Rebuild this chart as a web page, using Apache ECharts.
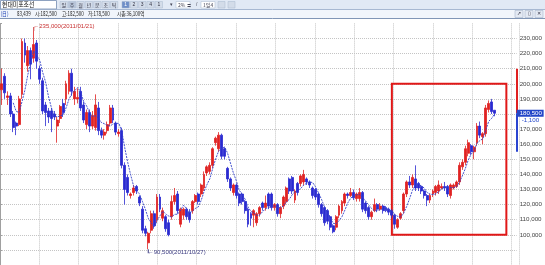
<!DOCTYPE html>
<html><head><meta charset="utf-8">
<script src="https://cdn.jsdelivr.net/npm/echarts@6/dist/echarts.min.js"></script>
<style>html,body{margin:0;padding:0;background:#fff;overflow:hidden}#c{width:545px;height:265px}</style>
</head><body><div id="c"></div><script>
// Weekly prices in thousands of won
const openPrices = [
 196,205,191,192,180,174,173,193,227,212,
 222,217,227,210,202,186,182,182,180,172,
 177,187,190,195,207,190,190,195,186,173,
 181,172,171,184,169,166,169,174,184,174,
 167,169,146,138,126,128,132,125,117,104,
 94.7,103,114,110,125,111,112,108,112,122,
 127,107,113,117,115,116,122,127,127,131,
 141,142,146,161,157,166,157,144,137,128,
 133,127,127,122,117,114,113,108,114,121,
 118,127,127,118,120,114,119,122,137,138,
 123,134,134,135,137,135,131,130,127,120,
 118,116,112,106,105,113,116,121,127,126,
 128,124,124,128,121,118,112,116,120,117,
 119,118,117,116,113,105,111,116,127,135,
 133,137,134,132,129,126,123,127,128,129,
 131,132,132,126,131,132,135,145,148,154,
 159,155,161,172,165,167,183,188,182.5];
const closePrices = [
 200,194,192,180,171,172,190,228,219,222,
 213,226,215,203,182,181,178,177,178,176,
 185,181,200,207,195,195,191,184,176,181,
 172,179,186,169,166,168,173,184,176,168,
 168,146,130,128,127,131,129,121,103,101,
 101,114,106,125,117,116,104,100,122,126,
 116,117,117,112,110,122,126,122,133,140,
 145,146,157,164,166,152,152,137,131,133,
 126,121,122,116,107,111,116,114,118,118,
 121,119,118,120,114,118,125,131,129,129,
 129,128,139,140,135,133,126,125,120,114,
 108,109,105,102,112,119,122,127,126,128,
 124.5,127,128,117,116,112,115,120,117,119,
 116,116,115,113,107,110,114,127,135,133,
 138,131,131,129,126,123,126,129,132,133,
 132,131,127,133,133,135,146,148,157,161,
 155,158,172,166,167,184,187,181.6,180.5];
const lowPrices = [
 186,190,186,178,168,166,172,190,214,208,
 203,214,210,200,180,172,174,168,176,161,
 174,178,186,193,192,186,187,182,174,170,
 168,170,169,166,164,163,167,172,174,166,
 165,144,120,126,124,126,127,119,101,99,
 90.5,101,104,108,115,109,102,99,110,120,
 114,105,110,110,108,114,121,120,125,129,
 139,140,144,159,155,150,150,135,129,126,
 124,119,120,114,105,106,105,106,112,116,
 116,117,116,116,112,111,117,120,127,127,
 121,126,132,133,133,131,124,123,118,112,
 106,107,103,101,103,111,114,119,124,125,
 123,122,122,115,114,110,110,115,115,116,
 114,115,113,111,104,104,110,114,125,131,
 131,129,129,127,124,119,121,125,126,127,
 130,129,125,124,130,131,133,143,146,152,
 153,150,159,164,160,165,181,180,178.5];
const highPrices = [
 210,207,195,194,182,175,192,230,230,225,
 224,235,229,212,204,188,184,184,182,178,
 186,190,202,209,210,198,197,198,188,183,
 183,182,193,188,171,170,175,186,186,175,
 170,171,148,140,128,133,133,126,119,106,
 102,116,116,127,127,118,113,110,126,131,
 129,118,118,118,117,123,127,128,134,142,
 146,148,158,165,168,167,158,145,138,134,
 134,128,128,123,118,115,117,115,119,122,
 126,128,128,121,121,119,126,132,138,139,
 130,135,140,143,138,136,132,131,128,121,
 119,117,113,107,113,120,123,128,128,131,
 130,128,131,129,122,119,116,124,121,121,
 120,119,118,117,114,111,115,128,136,139,
 140,146,135,133,130,127,127,130,133,136,
 134,135,133,134,134,136,148,150,159,163,
 160,159,174,175,168,186,189,190,182.5];

const totalSlots = 176;                // weeks shown incl. empty right margin
const categories = Array.from({length: totalSlots}, (_, i) => 'W' + (i + 1));
const yMin = 80, yMax = 240, yStep = 10; // thousands of won
const highDate = '2011/01/21';
const lowDate = '2011/10/27';
const boxRange = {fromWeek: 133, toWeek: 172, top: 200, bottom: 100};
const axisRangeHigh = 210, axisRangeLow = 155;
const headerItems = ['83,439', '시:182,500', '고:182,500', '저:178,500', '시총:36,100억'];
const periodButtons = ['일', '주', '월', '년', '분', '초', '틱'];
const numberButtons = ['1', '2', '3', '4', '1'];
const maPeriod = 5;

const fmt = v => Math.round(v * 1000).toLocaleString('en-US');
const candleData = openPrices.map((o, i) => [o, closePrices[i], lowPrices[i], highPrices[i]]);
const ma = closePrices.map((c, i) => {
  if (i < maPeriod - 1) return '-';
  let s = 0; for (let k = i - maPeriod + 1; k <= i; k++) s += closePrices[k];
  return +(s / maPeriod).toFixed(3);
});
const hiVal = Math.max(...highPrices), hiIdx = highPrices.indexOf(hiVal);
const loVal = Math.min(...lowPrices), loIdx = lowPrices.indexOf(loVal);
const lastClose = closePrices[closePrices.length - 1];
const change = lastClose - closePrices[closePrices.length - 2];

const UP = '#e02222', DOWN = '#2a2ad0';
const FONT = 'Liberation Sans';
const KFONT = 'Noto Sans CJK KR';

function ntext(x, y, t, size, color, sx) {
  return {type:'text', x:x, y:y, scaleX: sx || 0.8,
    style:{x:0, y:0, text:t, fontSize:size, fontFamily:KFONT, fill:color, verticalAlign:'middle'}};
}
const graphic = [
  {type:'rect', shape:{x:0,y:0,width:545,height:9.5}, style:{fill:'#e1e9f5'}},
  {type:'rect', shape:{x:0,y:9.5,width:545,height:9}, style:{fill:'#f1f5fb'}},
  {type:'line', shape:{x1:0,y1:9.5,x2:545,y2:9.5}, style:{stroke:'#a7b8d2', lineWidth:1}},
  {type:'line', shape:{x1:0,y1:18.5,x2:545,y2:18.5}, style:{stroke:'#8196b6', lineWidth:1}},
  {type:'rect', shape:{x:0.5,y:0.5,width:56,height:8.5}, style:{fill:'#fff', stroke:'#8ea2c0', lineWidth:1}},
  ntext(2, 5, '현대미포조선', 6.5, '#111', 0.9),
  ntext(0.5, 14.2, '(日)', 6, '#1b3fb4', 0.8)
];
const headerX = [17, 35, 62, 88, 117];
headerItems.forEach((t, i) => graphic.push(ntext(headerX[i], 14.2, t, 6, '#222', 0.75)));
periodButtons.forEach((t, i) => {
  const x = 60 + i * 8.4;
  graphic.push({type:'rect', shape:{x:x, y:1.5, width:7.4, height:6.5}, style:{fill: i === 1 ? '#b7c4d8' : '#d3dce9', stroke:'#a9b8cf', lineWidth:0.5}});
  graphic.push({type:'text', style:{x:x + 3.7, y:4.8, text:t, fontSize:5, fontFamily:KFONT, fill:'#334', align:'center', verticalAlign:'middle'}});
});
numberButtons.forEach((t, i) => {
  const x = 122 + i * 8.3;
  graphic.push({type:'rect', shape:{x:x, y:1.5, width:7.3, height:6.5}, style:{fill: i === 0 ? '#6f8fc8' : '#d3dce9', stroke:'#a9b8cf', lineWidth:0.5}});
  graphic.push({type:'text', style:{x:x + 3.65, y:4.8, text:t, fontSize:5, fontFamily:FONT, fill: i === 0 ? '#fff' : '#334', align:'center', verticalAlign:'middle'}});
});
graphic.push({type:'text', style:{x:170, y:4.8, text:'▾', fontSize:5, fill:'#445', verticalAlign:'middle'}});
graphic.push({type:'rect', shape:{x:176, y:1.5, width:14, height:6.5}, style:{fill:'#fff', stroke:'#a9b8cf', lineWidth:0.5}});
graphic.push({type:'text', style:{x:178, y:4.8, text:'2% ≑', fontSize:5, fontFamily:KFONT, fill:'#445', verticalAlign:'middle'}});
graphic.push({type:'text', style:{x:196, y:4.8, text:'/', fontSize:5, fill:'#445', verticalAlign:'middle'}});
graphic.push({type:'rect', shape:{x:201, y:1.5, width:14, height:6.5}, style:{fill:'#fff', stroke:'#a9b8cf', lineWidth:0.5}});
graphic.push({type:'text', style:{x:203, y:4.8, text:'1일4', fontSize:5, fontFamily:KFONT, fill:'#445', verticalAlign:'middle'}});
graphic.push({type:'rect', shape:{x:218, y:1.5, width:7, height:6.5}, style:{fill:'#d3dce9', stroke:'#a9b8cf', lineWidth:0.5}});
graphic.push({type:'rect', shape:{x:228, y:1.5, width:7, height:6.5}, style:{fill:'#d3dce9', stroke:'#a9b8cf', lineWidth:0.5}});
['↗', '▯', '✕'].forEach((t, i) => {
  const x = 515 + i * 10;
  graphic.push({type:'rect', shape:{x:x, y:10.5, width:8, height:7}, style:{fill:'#e3e9f3', stroke:'#9aaac2', lineWidth:0.5}});
  graphic.push({type:'text', style:{x:x + 4, y:14, text:t, fontSize:5, fill:'#334', align:'center', verticalAlign:'middle'}});
});

const chart = echarts.init(document.getElementById('c'), null, {renderer:'canvas'});
chart.setOption({
  animation: false,
  backgroundColor: '#fff',
  graphic: graphic,
  grid: [
    {left: 0, top: 23.4, width: 519, height: 249.4},
    {left: -13.7, top: 23.4, width: 532.7, height: 249.4}
  ],
  xAxis: [
    {type:'category', gridIndex:0, data: categories, boundaryGap: true,
     axisLine:{show:false}, axisTick:{show:false}, axisLabel:{show:false}, splitLine:{show:false}},
    {type:'value', gridIndex:0, min:0, max:1, show:false},
    {type:'value', gridIndex:1, min:0, max:13.19, interval:1,
     axisLine:{show:false}, axisTick:{show:false}, axisLabel:{show:false},
     splitLine:{show:true, lineStyle:{color:'#c4c4c4', type:'dotted', width:1}}}
  ],
  yAxis: [
    {type:'value', gridIndex:0, position:'right', min:yMin, max:yMax, interval:yStep,
     axisLine:{show:true, lineStyle:{color:'#a0a0a0'}},
     axisTick:{show:true, length:2, lineStyle:{color:'#a0a0a0'}},
     axisLabel:{margin:3, fontSize:6.2, fontFamily:FONT, color:'#444',
       formatter: v => (v < 100 || v > 230) ? '' : fmt(v)},
     splitLine:{show:true, showMinLine:false, showMaxLine:false, lineStyle:{color:'#c4c4c4', type:'dotted', width:1}}},
    {type:'value', gridIndex:1, min:0, max:1, show:false}
  ],
  series: [
    {type:'candlestick', name:'주가', xAxisIndex:0, yAxisIndex:0, data: candleData,
     barWidth: 2.4,
     itemStyle:{color:UP, color0:DOWN, borderColor:UP, borderColor0:DOWN, borderWidth:0.8},
     markArea:{silent:true, itemStyle:{color:'rgba(0,0,0,0)', borderColor:'#e01818', borderWidth:2},
       data:[[{xAxis: boxRange.fromWeek, yAxis: boxRange.top}, {xAxis: boxRange.toWeek, yAxis: boxRange.bottom}]]},
     markPoint:{silent:true, symbol:'rect', symbolSize:[1, 4], animation:false,
       data:[
         {coord:[hiIdx, hiVal], symbolOffset:[0, -2], itemStyle:{color:'#c83030'},
          label:{show:true, position:[0, -3.6], formatter:'←' + fmt(hiVal) + '(' + highDate + ')', fontSize:6, fontFamily:FONT, color:'#c83030'}},
         {coord:[loIdx, loVal], symbolOffset:[0, 2], itemStyle:{color:'#3a3a80'},
          label:{show:true, position:[0, 0.4], formatter:'←' + fmt(loVal) + '(' + lowDate + ')', fontSize:6, fontFamily:FONT, color:'#3a3a80'}}
       ]},
     markLine:{silent:true, symbol:'none', animation:false,
       lineStyle:{color:'rgba(0,0,0,0)', width:0},
       label:{show:true, position:'end', distance:0, padding:[7,0,0,0],
         formatter:'{p|' + fmt(lastClose) + '}\n{d|' + fmt(change) + '}',
         rich:{p:{backgroundColor:'#2446c8', color:'#fff', fontSize:6.2, fontFamily:FONT, padding:[0.5,2,0.5,3], lineHeight:7, width:22},
               d:{color:'#2446c8', fontSize:6.2, fontFamily:FONT, lineHeight:7, padding:[0,0,0,5]}}},
       data:[{yAxis: lastClose}]}
    },
    {type:'line', name:'MA5', xAxisIndex:0, yAxisIndex:0, data: ma, symbol:'none', silent:true,
     lineStyle:{color:'#3040c8', width:0.9, type:[2,1]}, z:3},
    {type:'line', xAxisIndex:1, yAxisIndex:0, data:[[0, lastClose]], symbol:'none', silent:true, clip:false,
     lineStyle:{opacity:0}, z:4,
     markLine:{silent:true, symbol:'none', animation:false, label:{show:false},
       data:[
         [{coord:[1, axisRangeHigh], lineStyle:{color:'#e02020', width:2, type:'solid'}}, {coord:[1, lastClose]}],
         [{coord:[1, lastClose], lineStyle:{color:'#2a44d0', width:2, type:'solid'}}, {coord:[1, axisRangeLow]}]
       ]}}
  ]
});
</script></body></html>
